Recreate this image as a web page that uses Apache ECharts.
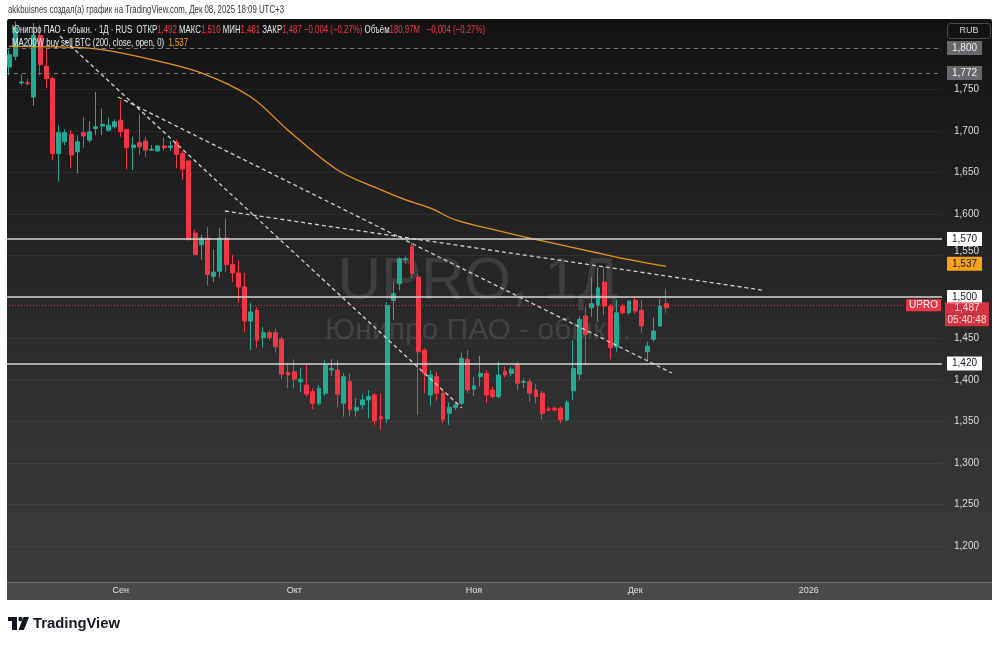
<!DOCTYPE html>
<html><head><meta charset="utf-8">
<script src="https://cdn.jsdelivr.net/npm/echarts@6/dist/echarts.min.js"></script>
<style>html,body{margin:0;padding:0;background:#fff}#c{width:1000px;height:645px}</style>
</head><body><div id="c"></div><script>
// ---- data ----
const opens = [1.777,1.790,1.758,1.758,1.741,1.815,1.778,1.763,1.673,1.687,
1.696,1.675,1.698,1.689,1.703,1.706,1.701,1.705,1.713,1.702,
1.680,1.686,1.688,1.677,1.676,1.682,1.680,1.686,1.673,1.664,
1.577,1.563,1.571,1.525,1.531,1.571,1.539,1.529,1.512,1.471,
1.484,1.451,1.457,1.457,1.449,1.409,1.410,1.398,1.394,1.386,
1.372,1.384,1.412,1.412,1.372,1.398,1.363,1.370,1.376,1.382,
1.356,1.353,1.496,1.516,1.545,1.561,1.524,1.436,1.382,1.404,
1.384,1.360,1.367,1.372,1.425,1.389,1.404,1.408,1.388,1.380,
1.410,1.408,1.418,1.397,1.398,1.388,1.384,1.365,1.366,1.366,
1.352,1.387,1.407,1.477,1.487,1.490,1.518,1.489,1.440,1.489,
1.481,1.496,1.484,1.434,1.449,1.465,1.492];
const closes = [1.792,1.825,1.759,1.757,1.815,1.780,1.763,1.673,1.698,1.698,
1.671,1.687,1.694,1.699,1.705,1.708,1.707,1.711,1.699,1.680,
1.683,1.681,1.677,1.678,1.682,1.680,1.682,1.672,1.654,1.569,
1.551,1.571,1.527,1.530,1.571,1.539,1.529,1.512,1.471,1.482,
1.448,1.457,1.451,1.440,1.407,1.406,1.401,1.401,1.383,1.372,
1.390,1.418,1.414,1.383,1.404,1.364,1.367,1.376,1.380,1.351,
1.353,1.490,1.504,1.546,1.546,1.528,1.434,1.408,1.406,1.384,
1.352,1.367,1.370,1.426,1.388,1.393,1.408,1.382,1.380,1.406,
1.406,1.413,1.396,1.398,1.384,1.380,1.360,1.364,1.364,1.352,
1.373,1.414,1.473,1.455,1.492,1.511,1.489,1.439,1.481,1.481,
1.495,1.483,1.465,1.441,1.459,1.489,1.487];
const lows = [1.767,1.785,1.755,1.755,1.730,1.767,1.752,1.665,1.639,1.683,
1.655,1.649,1.680,1.686,1.695,1.695,1.699,1.703,1.693,1.654,
1.653,1.671,1.669,1.676,1.675,1.676,1.676,1.655,1.641,1.569,
1.551,1.545,1.514,1.518,1.523,1.530,1.518,1.493,1.458,1.436,
1.439,1.439,1.448,1.433,1.401,1.390,1.390,1.386,1.380,1.365,
1.369,1.381,1.405,1.367,1.356,1.356,1.356,1.365,1.354,1.346,
1.340,1.348,1.472,1.508,1.540,1.523,1.358,1.384,1.369,1.375,
1.348,1.346,1.364,1.370,1.384,1.381,1.392,1.372,1.378,1.378,
1.403,1.405,1.388,1.390,1.374,1.372,1.352,1.362,1.362,1.348,
1.350,1.376,1.400,1.418,1.476,1.470,1.478,1.425,1.434,1.479,
1.479,1.480,1.457,1.424,1.446,1.464,1.481];
const highs = [1.798,1.832,1.768,1.763,1.830,1.828,1.800,1.765,1.707,1.702,
1.701,1.695,1.717,1.712,1.747,1.727,1.716,1.714,1.737,1.702,
1.693,1.720,1.693,1.683,1.683,1.692,1.688,1.690,1.676,1.664,
1.581,1.575,1.584,1.557,1.583,1.595,1.551,1.544,1.529,1.493,
1.488,1.464,1.460,1.462,1.452,1.420,1.425,1.415,1.418,1.390,
1.394,1.424,1.425,1.424,1.408,1.408,1.378,1.383,1.388,1.384,
1.384,1.494,1.517,1.548,1.549,1.566,1.528,1.438,1.412,1.410,
1.389,1.373,1.374,1.433,1.436,1.404,1.429,1.412,1.392,1.422,
1.416,1.416,1.422,1.402,1.402,1.395,1.387,1.368,1.368,1.368,
1.376,1.448,1.477,1.488,1.524,1.536,1.536,1.492,1.496,1.492,
1.496,1.500,1.496,1.446,1.475,1.498,1.510];
// MA200W points [bar index, value]
const maPoints = [[0,1.802],[10,1.801],[15,1.798],[23,1.786],[31,1.770],[39,1.741],[45,1.701],[53,1.653],[60,1.629],[64,1.617],[68,1.607],[72,1.593],[80,1.578],[87,1.566],[95,1.553],[100,1.545],[106,1.537]];
// drawn trend lines [bar index, price]
const trendA = [[8.2,1.8145],[73.05,1.3663]];
const trendB = [[17.56,1.7410],[106.92,1.4084]];
const trendC = [[34.82,1.6036],[121.44,1.5084]];
const whiteLevels = [1.570, 1.500, 1.420];
const greyLevels = [1.800, 1.772];
const lastPrice = 1.487, lastTimer = '05:40:48', maLast = 1.537;
const slotCount = 151;
const tickIdx = [18, 46, 75, 101, 129];
const tickLabels = ['Сен', 'Окт', 'Ноя', 'Дек', '2026'];
const yTicksMin = 1.15, yTicksMax = 1.85, yStep = 0.05;
const liftedTick = 1.55; // axis label pushed up by the 1,537 box

// ---- build ----
const FONT = '"Liberation Sans", Arial, sans-serif';
const fmt = v => v.toFixed(3).replace('.', ',');
const cats = Array.from({length: slotCount}, (_, i) => String(i));
const candles = opens.map((o, i) => [o, closes[i], lows[i], highs[i]]);
const UP = '#22ab94', DOWN = '#f23645';
const NONE = 'rgba(0,0,0,0)';

const mctx = document.createElement('canvas').getContext('2d');
function fitScale(text, size, weight, target) {
  mctx.font = (weight || 'normal') + ' ' + size + 'px "Liberation Sans"';
  return target / mctx.measureText(text).width;
}

const legend1 = ['Юнипро ПАО - обыкн. · 1Д · RUS  ОТКР', '1,492', ' МАКС', '1,510', ' МИН', '1,481', ' ЗАКР', '1,487 −0,004 (−0,27%)', ' Объём', '180,97M   −0,004 (−0,27%)'];
const legend1Text = legend1.map((s, i) => '{' + (i % 2 ? 'r' : 'w') + '|' + s + '}').join('');
const legend1Scale = fitScale(legend1.join(''), 11, 'normal', 473);
const legend2a = 'MA200W buy sell BTC (200, close, open, 0)  ';
const legend2Scale = fitScale(legend2a + '1,537', 11, 'normal', 176);
const headerText = 'akkbuisnes создал(а) график на TradingView.com, Дек 08, 2025 18:09 UTC+3';
const headerScale = fitScale(headerText, 11, 'normal', 276);
const tvScale = fitScale('TradingView', 15, 'bold', 87);

const levelLabel = (bg, fg) => ({show: true, position: 'end', distance: 5, backgroundColor: bg, color: fg, padding: [2, 5], fontSize: 10, fontFamily: FONT});

const markData = [];
greyLevels.forEach(v => markData.push({yAxis: v, lineStyle: {color: '#7a7a7a', type: [4, 4], width: 1}, label: Object.assign(levelLabel('#66686b', '#f0f0f0'), {formatter: fmt(v)})}));
whiteLevels.forEach(v => markData.push({yAxis: v, lineStyle: {color: '#d6d6d6', type: 'solid', width: 1.6}, label: Object.assign(levelLabel('#ffffff', '#131722'), {formatter: fmt(v)})}));
markData.push({yAxis: maLast, lineStyle: {color: NONE, width: 1}, label: Object.assign(levelLabel('#f7a21b', '#131722'), {formatter: fmt(maLast)})});
markData.push({yAxis: lastPrice, lineStyle: {color: DOWN, type: [1, 2], width: 1, opacity: 0.85},
  label: {show: true, position: 'end', distance: 3, padding: 0, formatter: '{a| }\n{b|' + fmt(lastPrice) + '}\n{b|' + lastTimer + '}',
    rich: {a: {height: 18, lineHeight: 18, fontSize: 10}, b: {backgroundColor: DOWN, color: '#fff', width: 40, align: 'center', height: 12, lineHeight: 12, padding: [0, 2], fontSize: 10, fontFamily: FONT}}}});
markData.push({yAxis: lastPrice, lineStyle: {color: NONE, width: 1}, label: {show: true, position: 'insideEnd', distance: 1, formatter: 'UPRO', backgroundColor: DOWN, color: '#fff', padding: [1, 3], fontSize: 10, fontFamily: FONT}});

const trendStyle = {color: '#cfcfcf', width: 1.3, type: [4, 3]};
const lineSeries = (data, style, smooth) => ({type: 'line', xAxisIndex: 1, yAxisIndex: 0, data, smooth: smooth || false, showSymbol: false, symbol: 'none', lineStyle: style, silent: true, z: 3});

const Z = 50;
const option = {
  animation: false,
  backgroundColor: '#ffffff',
  textStyle: {fontFamily: FONT},
  grid: {left: 6, right: 58, top: 6.5, bottom: 57.5},
  xAxis: [
    {type: 'category', data: cats, boundaryGap: true, offset: -5.5, z: 60,
     axisLine: {show: false}, axisTick: {show: false}, splitLine: {show: false},
     axisLabel: {interval: (i) => tickIdx.indexOf(i) >= 0, formatter: (v, i) => tickLabels[tickIdx.indexOf(i)] || '', color: '#e0e0e0', fontSize: 9, margin: 4, fontFamily: FONT}},
    {type: 'value', min: -0.5, max: slotCount - 0.5, show: false, splitLine: {show: false}}
  ],
  yAxis: {type: 'value', position: 'right', min: yTicksMin, max: yTicksMax, interval: yStep,
    axisLine: {show: false}, axisTick: {show: false},
    splitLine: {lineStyle: {color: 'rgba(255,255,255,0.055)', width: 1}},
    axisLabel: {color: '#dcdcdc', fontSize: 10, margin: 12, fontFamily: FONT,
      formatter: v => Math.abs(v - liftedTick) < 1e-6 ? '{up|' + fmt(v) + '}' : fmt(v),
      rich: {up: {padding: [0, 0, 9, 0], color: '#dcdcdc', fontSize: 10, fontFamily: FONT}}}},
  series: [
    {type: 'candlestick', xAxisIndex: 0, yAxisIndex: 0, data: candles, barWidth: 4.4,
     itemStyle: {color: UP, color0: DOWN, borderColor: UP, borderColor0: DOWN, borderWidth: 1},
     markLine: {symbol: ['none', 'none'], silent: true, animation: false, data: markData}},
    lineSeries(maPoints, {color: '#e8921c', width: 1.3}, 0.35),
    lineSeries(trendA, trendStyle),
    lineSeries(trendB, trendStyle),
    lineSeries(trendC, trendStyle)
  ],
  graphic: {elements: [
    {type: 'rect', silent: true, z: -10, shape: {x: 7, y: 19, width: 985, height: 581, r: 2},
     style: {fill: new echarts.graphic.LinearGradient(0, 0, 0, 1, [{offset: 0, color: '#131313'}, {offset: 1, color: '#3e3e3e'}])}},
    {type: 'text', silent: true, z: -5, x: 478, y: 282, style: {text: 'UPRO, 1Д', fontSize: 60, fontFamily: FONT, fill: 'rgba(255,255,255,0.11)', align: 'center', verticalAlign: 'middle'}},
    {type: 'text', silent: true, z: -5, x: 478, y: 331, style: {text: 'Юнипро ПАО - обыкн.', fontSize: 30, fontFamily: FONT, fill: 'rgba(255,255,255,0.11)', align: 'center', verticalAlign: 'middle'}},
    // white surround
    {type: 'rect', silent: true, z: Z, shape: {x: 0, y: 0, width: 1000, height: 19}, style: {fill: '#ffffff'}},
    {type: 'rect', silent: true, z: Z, shape: {x: 0, y: 0, width: 7, height: 645}, style: {fill: '#ffffff'}},
    {type: 'rect', silent: true, z: Z, shape: {x: 992, y: 0, width: 8, height: 645}, style: {fill: '#ffffff'}},
    {type: 'rect', silent: true, z: Z, shape: {x: 0, y: 600, width: 1000, height: 45}, style: {fill: '#ffffff'}},
    // time strip
    {type: 'rect', silent: true, z: Z, shape: {x: 7, y: 582, width: 985, height: 18}, style: {fill: '#4a4a4a'}},
    {type: 'line', silent: true, z: Z, shape: {x1: 7, y1: 582.5, x2: 992, y2: 582.5}, style: {stroke: '#707070', lineWidth: 1}},
    // header
    {type: 'text', silent: true, z: Z + 1, x: 8, y: 10, scaleX: headerScale, style: {text: headerText, fontSize: 11, fontFamily: FONT, fill: '#333333', verticalAlign: 'middle'}},
    // legend
    {type: 'text', silent: true, z: Z + 1, x: 12, y: 30, scaleX: legend1Scale, style: {text: legend1Text, fontSize: 11, fontFamily: FONT, verticalAlign: 'middle',
      rich: {w: {fill: '#e6e8ee', fontSize: 11, fontFamily: FONT}, r: {fill: '#f23645', fontSize: 11, fontFamily: FONT}}}},
    {type: 'text', silent: true, z: Z + 1, x: 12, y: 43, scaleX: legend2Scale, style: {text: '{w|' + legend2a + '}{o|' + fmt(maLast) + '}', fontSize: 11, fontFamily: FONT, verticalAlign: 'middle',
      rich: {w: {fill: '#e6e8ee', fontSize: 11, fontFamily: FONT}, o: {fill: '#f7a21b', fontSize: 11, fontFamily: FONT}}}},
    // RUB
    {type: 'rect', silent: true, z: Z + 1, shape: {x: 947.5, y: 23.5, width: 43, height: 15, r: 3}, style: {fill: 'rgba(0,0,0,0)', stroke: '#4a4a4a', lineWidth: 1}},
    {type: 'text', silent: true, z: Z + 1, x: 969, y: 31, style: {text: 'RUB', fontSize: 9, fontFamily: FONT, fill: '#d6d6d6', align: 'center', verticalAlign: 'middle'}},
    // TradingView logo
    {type: 'rect', silent: true, z: Z + 1, shape: {x: 8, y: 617, width: 9, height: 4}, style: {fill: '#131722'}},
    {type: 'rect', silent: true, z: Z + 1, shape: {x: 12, y: 617, width: 5, height: 13}, style: {fill: '#131722'}},
    {type: 'circle', silent: true, z: Z + 1, shape: {cx: 20.5, cy: 619, r: 2.2}, style: {fill: '#131722'}},
    {type: 'polygon', silent: true, z: Z + 1, shape: {points: [[23.5, 617], [29, 617], [24, 630], [18.5, 630]]}, style: {fill: '#131722'}},
    {type: 'text', silent: true, z: Z + 1, x: 33, y: 624, scaleX: tvScale, style: {text: 'TradingView', fontSize: 15, fontWeight: 'bold', fontFamily: FONT, fill: '#131722', verticalAlign: 'middle'}}
  ]}
};
const chart = echarts.init(document.getElementById('c'), null, {renderer: 'canvas'});
chart.setOption(option);
</script></body></html>
